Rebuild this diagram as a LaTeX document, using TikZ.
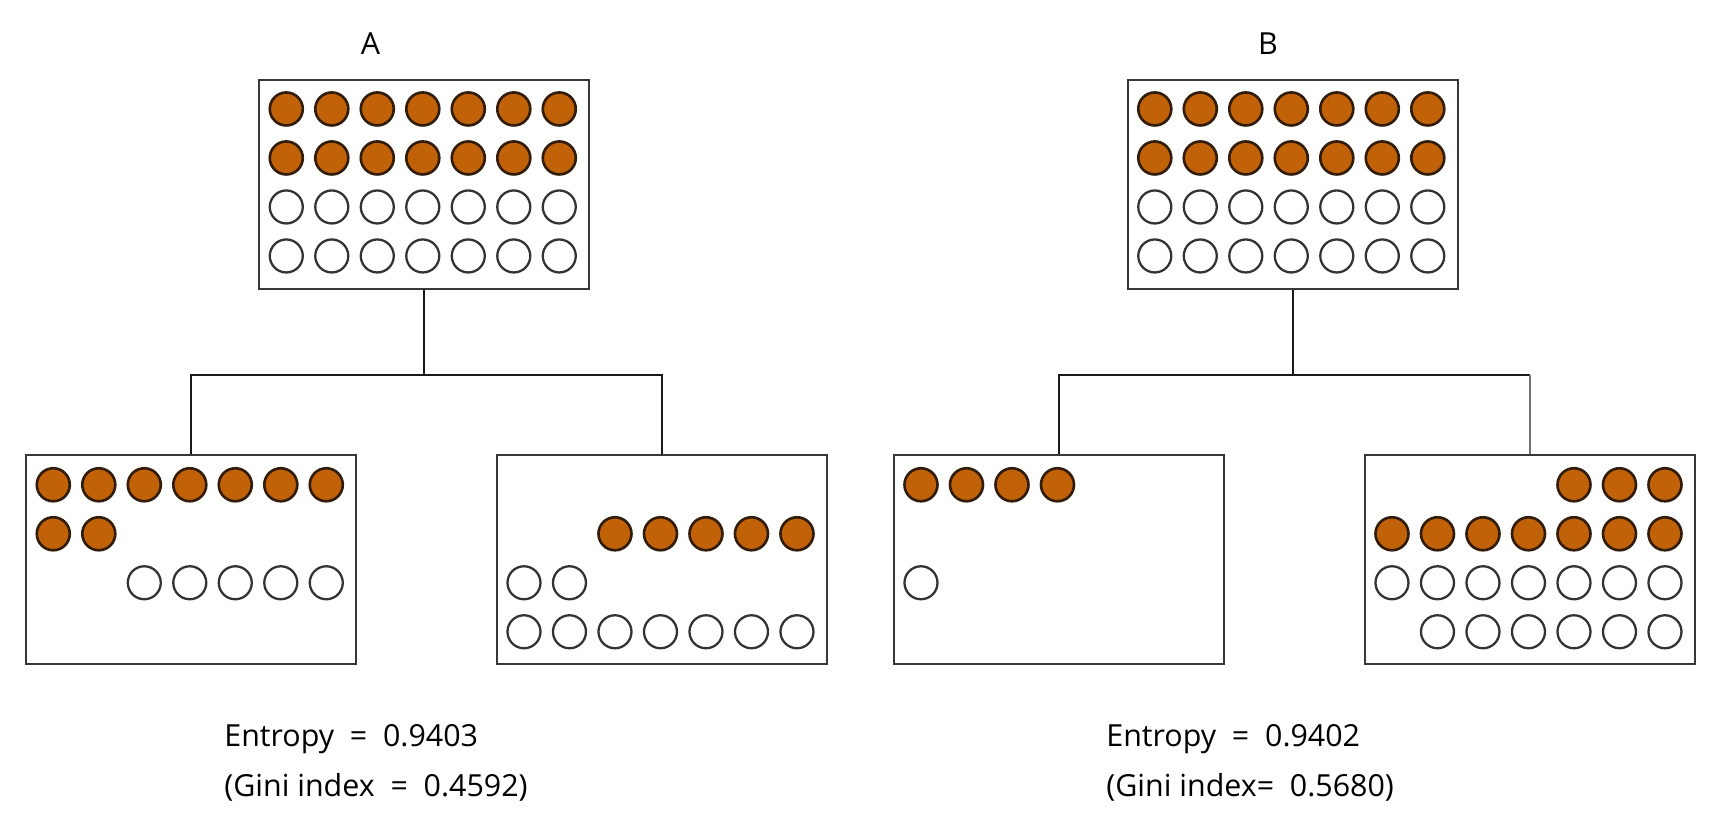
\documentclass[tikz,border=0pt]{standalone}
\usepackage{fontspec}
\setmainfont{Open Sans}
\usepackage{tikz}
\usetikzlibrary{positioning}
\definecolor{naranja}{RGB}{194,98,8}
\definecolor{cafe}{RGB}{50,28,10}

\begin{document}
\begin{tikzpicture}[x=0.02cm, y=-0.02cm,
  caja/.style={draw=black!78, line width=1.2pt, minimum width=6.6cm, minimum height=4.18cm, inner sep=0pt},
  bola/.style={draw=cafe, fill=naranja, line width=1.5pt},
  hueco/.style={draw=black!80, fill=white, line width=1.3pt},
  linea/.style={draw=black!90, line width=1.1pt},
  texto/.style={font=\fontsize{17.3}{20}\selectfont, inner sep=0pt}]
  \useasboundingbox (0,0) rectangle (1728,834);
  % cajas
  \node[caja] (raizA)  at (424.3,184.5) {};
  \node[caja] (raizB)  at (1292.8,184.5) {};
  \node[caja] (hijoA1) at (191.3,559.3) {};
  \node[caja] (hijoA2) at (662,559.3) {};
  \node[caja] (hijoB1) at (1059,559.3) {};
  \node[caja] (hijoB2) at (1530,559.3) {};
  % rotulos
  \node[texto, anchor=base] (rotA) at (370.5,55) {A};
  \node[texto, anchor=base] (rotB) at (1268,55) {B};
  \node[texto, anchor=base west] (entA)  at (224,746.7) {Entropy \ = \ 0.9403};
  \node[texto, anchor=base west] (giniA) at (224,796.7) {(Gini index \ = \ 0.4592)};
  \node[texto, anchor=base west] (entB)  at (1106,746.7) {Entropy \ = \ 0.9402};
  \node[texto, anchor=base west] (giniB) at (1106,796.7) {(Gini index= \ 0.5680)};
  % conectores
  \coordinate (cruceA) at (424.3,374.7);
  \coordinate (cruceB) at (1292.8,374.7);
  \draw[linea] (raizA.south) -- (cruceA);
  \draw[linea] (hijoA1.north) |- (cruceA) -| (hijoA2.north);
  \draw[linea] (raizB.south) -- (cruceB);
  \draw[linea] (hijoB1.north) |- (cruceB) -- (cruceB -| hijoB2.north) coordinate (esquinaB);
  \draw[linea, draw=black!55] (esquinaB) -- (hijoB2.north);
  % bolas
  \foreach \caja in {raizA, raizB} {
    \begin{scope}[shift={(\caja.north west)}]
      \foreach \col in {0,...,6} {
        \draw[bola]  (28+45.5*\col, 30) circle[radius=0.33cm];
        \draw[bola]  (28+45.5*\col, 79) circle[radius=0.33cm];
        \draw[hueco] (28+45.5*\col, 128) circle[radius=0.33cm];
        \draw[hueco] (28+45.5*\col, 177) circle[radius=0.33cm];
      }
    \end{scope}
  }
  \begin{scope}[shift={(hijoA1.north west)}]
    \foreach \col/\fila in {0/0,1/0,2/0,3/0,4/0,5/0,6/0,0/1,1/1}
      \draw[bola] (28+45.5*\col, 31+49*\fila) circle[radius=0.33cm];
    \foreach \col in {2,...,6}
      \draw[hueco] (28+45.5*\col, 129) circle[radius=0.33cm];
  \end{scope}
  \begin{scope}[shift={(hijoA2.north west)}]
    \foreach \col in {2,...,6}
      \draw[bola] (28+45.5*\col, 80) circle[radius=0.33cm];
    \foreach \col/\fila in {0/2,1/2,0/3,1/3,2/3,3/3,4/3,5/3,6/3}
      \draw[hueco] (28+45.5*\col, 31+49*\fila) circle[radius=0.33cm];
  \end{scope}
  \begin{scope}[shift={(hijoB1.north west)}]
    \foreach \col in {0,...,3}
      \draw[bola] (28+45.5*\col, 31) circle[radius=0.33cm];
    \draw[hueco] (28, 129) circle[radius=0.33cm];
  \end{scope}
  \begin{scope}[shift={(hijoB2.north west)}]
    \foreach \col/\fila in {4/0,5/0,6/0,0/1,1/1,2/1,3/1,4/1,5/1,6/1}
      \draw[bola] (28+45.5*\col, 31+49*\fila) circle[radius=0.33cm];
    \foreach \col/\fila in {0/2,1/2,2/2,3/2,4/2,5/2,6/2,1/3,2/3,3/3,4/3,5/3,6/3}
      \draw[hueco] (28+45.5*\col, 31+49*\fila) circle[radius=0.33cm];
  \end{scope}
\end{tikzpicture}
\end{document}
